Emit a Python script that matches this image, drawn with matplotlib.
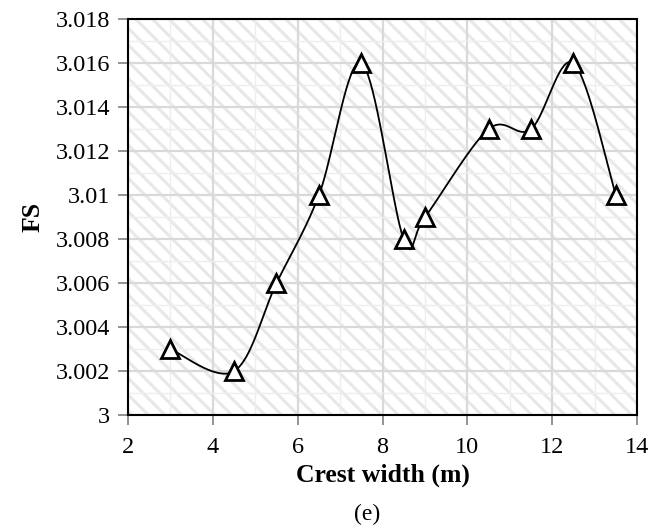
import numpy as np
import matplotlib
matplotlib.use("Agg")
import matplotlib.pyplot as plt
from matplotlib.patches import Rectangle
from matplotlib.ticker import MultipleLocator, FuncFormatter

crest_width = [3, 4.5, 5.5, 6.5, 7.5, 8.5, 9, 10.5, 11.5, 12.5, 13.5]
fs_values = [3.003, 3.002, 3.006, 3.010, 3.016, 3.008, 3.009, 3.013, 3.013, 3.016, 3.010]

plt.rcParams['font.family'] = ['Liberation Serif', 'DejaVu Serif']
plt.rcParams['hatch.linewidth'] = 2.2

def excel_smooth(x, y, n=40):
    x = np.asarray(x, float); y = np.asarray(y, float)
    px = np.concatenate([[x[0]], x, [x[-1]]])
    py = np.concatenate([[y[0]], y, [y[-1]]])
    xs, ys = [], []
    t = np.linspace(0, 1, n)
    for i in range(len(x) - 1):
        p0 = np.array([px[i + 1], py[i + 1]])
        p3 = np.array([px[i + 2], py[i + 2]])
        c1 = p0 + (np.array([px[i + 2], py[i + 2]]) - np.array([px[i], py[i]])) / 6
        c2 = p3 - (np.array([px[i + 3], py[i + 3]]) - np.array([px[i + 1], py[i + 1]])) / 6
        b = ((1 - t) ** 3)[:, None] * p0 + (3 * (1 - t) ** 2 * t)[:, None] * c1 + \
            (3 * (1 - t) * t ** 2)[:, None] * c2 + (t ** 3)[:, None] * p3
        xs.append(b[:, 0]); ys.append(b[:, 1])
    return np.concatenate(xs), np.concatenate(ys)

fig = plt.figure(figsize=(6.5, 5.31), dpi=100)
ax = fig.add_axes([0.197, 0.218, 0.783, 0.746])

ax.add_patch(Rectangle((0, 0), 1, 1, transform=ax.transAxes, facecolor='white',
                       edgecolor='#e8e8e8', hatch='\\\\', linewidth=0, zorder=0))

ax.set_xlim(2, 14)
ax.set_ylim(3.0, 3.018)
ax.xaxis.set_major_locator(MultipleLocator(2))
ax.xaxis.set_minor_locator(MultipleLocator(1))
ax.yaxis.set_major_locator(MultipleLocator(0.002))
ax.yaxis.set_minor_locator(MultipleLocator(0.001))

def yfmt(v, pos):
    s = f"{v:.3f}".rstrip('0').rstrip('.')
    return s
ax.yaxis.set_major_formatter(FuncFormatter(yfmt))

ax.grid(which='major', color='#d9d9d9', linewidth=1.6, zorder=1)
ax.grid(which='minor', color='#eeeeee', linewidth=1.0, zorder=1)
ax.set_axisbelow(True)

sx, sy = excel_smooth(crest_width, fs_values)
ax.plot(sx, sy, color='black', linewidth=1.3, zorder=3)
ax.plot(crest_width, fs_values, linestyle='none', marker='^', markersize=13,
        markerfacecolor='white', markeredgecolor='black', markeredgewidth=2, zorder=4)

for sp in ax.spines.values():
    sp.set_color('black'); sp.set_linewidth(1.5)

ax.tick_params(which='major', direction='out', length=7, width=1.2, color='#808080',
               labelsize=17.5, pad=6)
ax.tick_params(axis='x', which='major', pad=9)
ax.tick_params(which='minor', length=0)

ax.set_ylabel('FS', fontsize=18.5, fontweight='bold', labelpad=8)
ax.set_xlabel('Crest width (m)', fontsize=18.5, fontweight='bold', labelpad=4)
fig.text(0.565, 0.012, '(e)', fontsize=17, ha='center', va='bottom')

fig.savefig('out.png', dpi=100)
